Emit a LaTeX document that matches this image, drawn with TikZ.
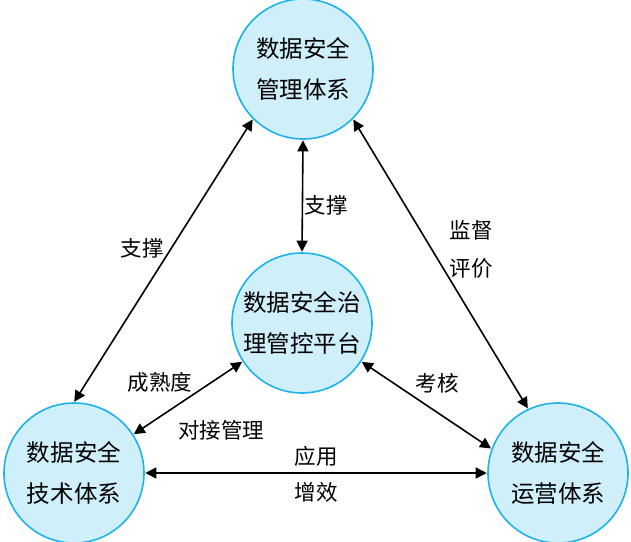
\documentclass[tikz,border=0pt]{standalone}
\usepackage{fontspec}
\usepackage{tikz}
\usetikzlibrary{arrows.meta}
\newfontfamily\cjk{Noto Sans CJK SC}
\definecolor{dsfill}{HTML}{CFF0FB}
\definecolor{dsline}{HTML}{1EB3E8}

\begin{document}
\begin{tikzpicture}[x=1pt, y=-1pt,
  font=\cjk\fontsize{23.5}{41}\selectfont,
  sys/.style={circle, draw=dsline, fill=dsfill, line width=1.6pt, minimum size=140pt, align=center, inner sep=0pt},
  link/.style={{Triangle[length=11pt,width=11pt]}-{Triangle[length=11pt,width=11pt]}, line width=1.6pt, draw=black, shorten <=0.5pt, shorten >=0.5pt},
  lbl/.style={align=center, inner sep=1pt, font=\cjk\fontsize{21.5}{38}\selectfont}
]
\useasboundingbox (0,0) rectangle (631,541);
% ================= the four systems =================
\node[sys] (mgmt) at (303,69) {数据安全\\管理体系};
\node[sys] (plat) at (302,323) {数据安全治\\理管控平台};
\node[sys] (tech) at (74,473) {数据安全\\技术体系};
\node[sys] (ops) at (558,473) {数据安全\\运营体系};
% ================= connectors =================
\draw[link] (mgmt.south) -- (plat.north);
\draw[link] (mgmt.225) -- (tech.north);
\draw[link] (mgmt.315) -- (ops.115);
\draw[link] (plat.213) -- (tech.33);
\draw[link] (plat.327) -- (ops.160);
\draw[link] (tech.east) -- node[lbl, above=5pt]{应用} node[lbl, below=8pt]{增效} (ops.west);
% ================= labels =================
\node[lbl] (lsup) at (326,205) {支撑};
\node[lbl] (lsupl) at (142,248) {支撑};
\node[lbl] (leval) at (471,249) {监督\\评价};
\node[lbl] (lmat) at (160,382) {成熟度};
\node[lbl] (ldock) at (221,430) {对接管理};
\node[lbl] (lexam) at (437,383) {考核};
\end{tikzpicture}
\end{document}
